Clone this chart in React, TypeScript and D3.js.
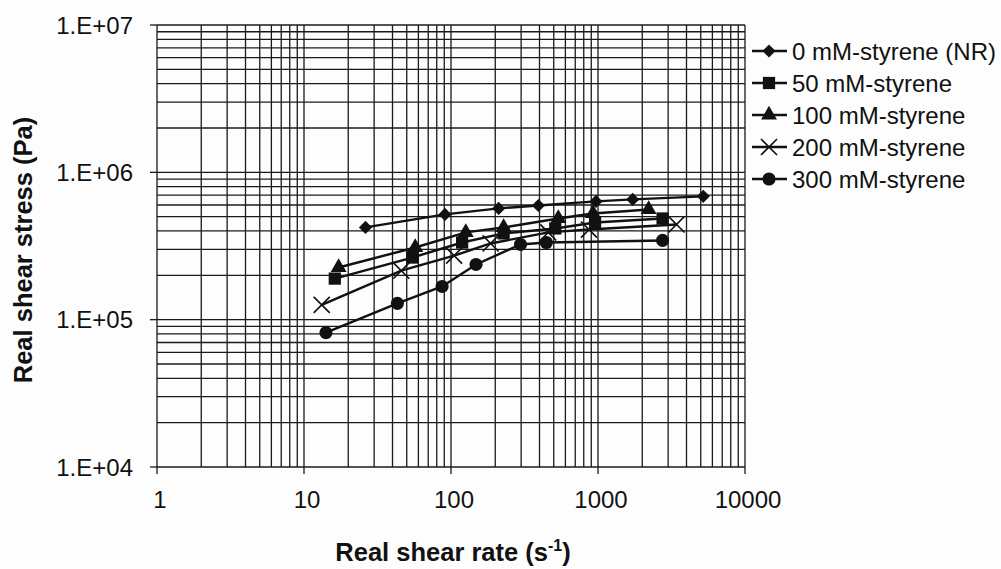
import React from "react";
import * as d3 from "d3";

// values (shear rate in 1/s, stress in Pa)
const seriesNames = [
  "0 mM-styrene (NR)",
  "50 mM-styrene",
  "100 mM-styrene",
  "200 mM-styrene",
  "300 mM-styrene",
];
const rate0 = [26.2, 91, 211, 393, 969, 1723, 5200];
const stress0 = [4.23e5, 5.18e5, 5.69e5, 5.96e5, 6.35e5, 6.55e5, 6.87e5];
const rate50 = [16.2, 54.5, 119, 228, 512, 955, 2750];
const stress50 = [1.9e5, 2.64e5, 3.34e5, 3.85e5, 4.16e5, 4.57e5, 4.86e5];
const rate100 = [17.2, 57.1, 126, 228, 537, 925, 2210];
const stress100 = [2.26e5, 3.09e5, 3.91e5, 4.23e5, 4.86e5, 5.26e5, 5.6e5];
const rate200 = [13.2, 45.9, 105, 186, 459, 869, 3420];
const stress200 = [1.26e5, 2.15e5, 2.72e5, 3.29e5, 3.91e5, 4.09e5, 4.43e5];
const rate300 = [14.1, 43.2, 87, 148, 297, 445, 2750];
const stress300 = [8.16e4, 1.29e5, 1.68e5, 2.37e5, 3.24e5, 3.34e5, 3.45e5];

const xTickValues = [1, 10, 100, 1000, 10000];
const xTickLabels = ["1", "10", "100", "1000", "10000"];
const yTickValues = [1e4, 1e5, 1e6, 1e7];
const yTickLabels = ["1.E+04", "1.E+05", "1.E+06", "1.E+07"];

const width = 1001;
const height = 569;
const x = d3.scaleLog().domain([1, 10000]).range([157, 745]);
const y = d3.scaleLog().domain([1e4, 1e7]).range([467, 25]);

const font = "'Liberation Sans', Arial, sans-serif";

const symbols = [
  d3.symbol(d3.symbolDiamond2, 110)(),
  d3.symbol(d3.symbolSquare, 150)(),
  d3.symbol(d3.symbolTriangle, 110)(),
  d3.symbol(d3.symbolTimes, 170)(),
  d3.symbol(d3.symbolCircle, 135)(),
];

const series = [
  { rate: rate0, stress: stress0 },
  { rate: rate50, stress: stress50 },
  { rate: rate100, stress: stress100 },
  { rate: rate200, stress: stress200 },
  { rate: rate300, stress: stress300 },
].map((s, i) => ({
  name: seriesNames[i],
  symbol: symbols[i],
  points: s.rate.map((r, j) => [r, s.stress[j]] as [number, number]),
}));

const line = d3
  .line<[number, number]>()
  .x((d) => x(d[0]))
  .y((d) => y(d[1]));

// every 1..9 step inside each decade
const gridX = d3.range(0, 4).flatMap((e) => d3.range(1, 10).map((m) => m * 10 ** e)).concat([10000]);
const gridY = d3.range(4, 7).flatMap((e) => d3.range(1, 10).map((m) => m * 10 ** e)).concat([1e7]);

const Marker = ({ d, i, cx, cy }: { d: string; i: number; cx: number; cy: number }) =>
  i === 3 ? (
    <path d={d} transform={`translate(${cx},${cy})`} fill="none" stroke="#111" strokeWidth={1.6} />
  ) : (
    <path d={d} transform={`translate(${cx},${cy})`} fill="#111" />
  );

const App = () => {
  const [x0, x1] = x.range();
  const [y0, y1] = y.range();
  return (
    <div style={{ position: "absolute", left: 0, top: 0 }}>
      <svg width={width} height={height} style={{ display: "block", background: "#fdfdfd" }}>
        <g stroke="#1a1a1a" strokeWidth={1.3}>
          {gridX.map((v) => (
            <line key={"gx" + v} x1={x(v)} x2={x(v)} y1={y1} y2={y0} />
          ))}
          {gridY.map((v) => (
            <line key={"gy" + v} x1={x0} x2={x1} y1={y(v)} y2={y(v)} />
          ))}
          {yTickValues.map((v) => (
            <line key={"ty" + v} x1={x0 - 7} x2={x0} y1={y(v)} y2={y(v)} />
          ))}
          {xTickValues.map((v) => (
            <line key={"tx" + v} x1={x(v)} x2={x(v)} y1={y0} y2={y0 + 7} />
          ))}
        </g>

        <g fontFamily={font} fontSize={24} fill="#111">
          {yTickValues.map((v, i) => (
            <text key={v} x={x0 - 24} y={y(v)} dy="0.36em" textAnchor="end">
              {yTickLabels[i]}
            </text>
          ))}
          {xTickValues.map((v, i) => (
            <text key={v} x={x(v) + 3} y={508} textAnchor="middle">
              {xTickLabels[i]}
            </text>
          ))}
        </g>

        {series.map((s, i) => (
          <g key={s.name}>
            <path d={line(s.points) ?? ""} fill="none" stroke="#111" strokeWidth={2.4} />
            {s.points.map((p, j) => (
              <Marker key={j} d={s.symbol ?? ""} i={i} cx={x(p[0])} cy={y(p[1])} />
            ))}
          </g>
        ))}

        <g fontFamily={font} fontSize={24} fill="#111">
          {series.map((s, i) => {
            const ly = 51 + i * 32;
            return (
              <g key={s.name}>
                <line x1={752} x2={787} y1={ly} y2={ly} stroke="#111" strokeWidth={2.4} />
                <Marker d={s.symbol ?? ""} i={i} cx={769} cy={ly} />
                <text x={792} y={ly} dy="0.36em">
                  {s.name}
                </text>
              </g>
            );
          })}
        </g>

        <g fontFamily={font} fontSize={25.5} fontWeight="bold" fill="#111">
          <text x={453} y={561} textAnchor="middle">
            Real shear rate (s
            <tspan dy={-10} fontSize={16}>-1</tspan>
            <tspan dy={10}>)</tspan>
          </text>
          <text transform={`translate(32,250) rotate(-90)`} textAnchor="middle">
            Real shear stress (Pa)
          </text>
        </g>
      </svg>
    </div>
  );
};

export default App;
